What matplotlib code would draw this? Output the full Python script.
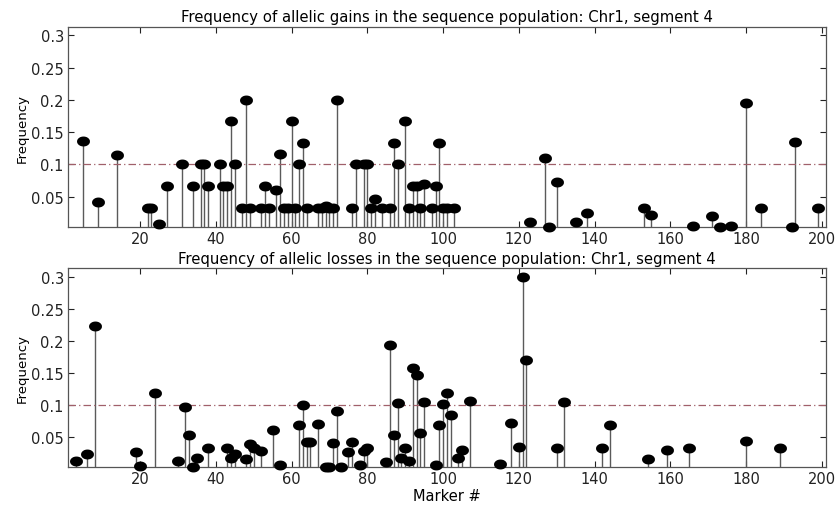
import numpy as np
from matplotlib import pyplot as plt
from matplotlib.path import Path

plt.rcParams['font.family'] = ['DejaVu Sans']

# allelic gains (top panel)
gain_marker = [5, 9, 14, 22, 23, 25, 27, 31, 34, 36, 37, 38, 41, 42, 43, 44, 45, 47, 48, 49,
               52, 53, 54, 56, 57, 58, 59, 60, 61, 62, 63, 64, 67, 68, 69, 70, 71, 72, 76, 77,
               79, 80, 81, 82, 84, 86, 87, 88, 90, 91, 92, 93, 94, 95, 97, 98, 99, 100, 101, 103,
               123, 127, 128, 130, 135, 138, 153, 155, 166, 171, 173, 176, 180, 184, 192, 193, 199]
gain_freq = [0.137, 0.042, 0.114, 0.033, 0.033, 0.007, 0.067, 0.1, 0.067, 0.1, 0.1, 0.067, 0.1, 0.067,
             0.067, 0.167, 0.1, 0.033, 0.2, 0.033, 0.033, 0.067, 0.033, 0.06, 0.116, 0.033, 0.033,
             0.167, 0.033, 0.1, 0.133, 0.033, 0.033, 0.033, 0.035, 0.033, 0.033, 0.2, 0.033, 0.1,
             0.1, 0.1, 0.033, 0.046, 0.033, 0.033, 0.133, 0.1, 0.167, 0.033, 0.067, 0.067, 0.033,
             0.069, 0.033, 0.067, 0.133, 0.033, 0.033, 0.033, 0.011, 0.11, 0.003, 0.073, 0.011,
             0.025, 0.033, 0.022, 0.004, 0.02, 0.003, 0.005, 0.195, 0.033, 0.003, 0.135, 0.033]

# allelic losses (bottom panel)
loss_marker = [3, 6, 8, 19, 20, 24, 30, 32, 33, 34, 35, 38, 43, 44, 45, 48, 49, 50, 52, 55, 57,
               62, 63, 64, 65, 67, 69, 70, 71, 72, 73, 75, 76, 78, 79, 80, 85, 86, 87, 88, 89, 90,
               91, 92, 93, 94, 95, 98, 99, 100, 101, 102, 104, 105, 107, 115, 118, 120, 121, 122,
               130, 132, 142, 144, 154, 159, 165, 180, 189]
loss_freq = [0.013, 0.023, 0.223, 0.026, 0.005, 0.119, 0.013, 0.097, 0.053, 0.004, 0.017, 0.033,
             0.033, 0.017, 0.023, 0.015, 0.039, 0.033, 0.028, 0.061, 0.007, 0.069, 0.1, 0.042,
             0.043, 0.071, 0.004, 0.003, 0.04, 0.09, 0.003, 0.027, 0.042, 0.007, 0.028, 0.033,
             0.011, 0.193, 0.053, 0.103, 0.017, 0.033, 0.012, 0.158, 0.146, 0.056, 0.104, 0.007,
             0.068, 0.101, 0.118, 0.084, 0.018, 0.029, 0.106, 0.008, 0.072, 0.034, 0.299, 0.17,
             0.033, 0.104, 0.033, 0.069, 0.016, 0.03, 0.033, 0.044, 0.033]

threshold = 0.1
titles = ['Frequency of allelic gains in the sequence population: Chr1, segment 4',
          'Frequency of allelic losses in the sequence population: Chr1, segment 4']

# flattened ellipse marker like matlab's filled stem
t = np.linspace(0, 2 * np.pi, 41)
ellipse = Path(np.column_stack([1.35 * np.cos(t), np.sin(t)]))

fig = plt.figure(figsize=(8.4, 5.1), dpi=100)
ax1 = fig.add_axes([0.081, 0.553, 0.902, 0.392])
ax2 = fig.add_axes([0.081, 0.082, 0.902, 0.39])

for ax, xs, ys, title in [(ax1, gain_marker, gain_freq, titles[0]),
                          (ax2, loss_marker, loss_freq, titles[1])]:
    ax.vlines(xs, 0, ys, color='#5a5a5a', linewidth=1.0)
    ax.plot(xs, ys, linestyle='none', marker=ellipse, markersize=8.3,
            color='black', clip_on=False, zorder=3)
    ax.axhline(threshold, color='#a0606a', linestyle=(0, (6, 2.5, 1, 2.5)), linewidth=0.9)
    ax.set_xlim(1, 201)
    ax.set_ylim(0.003, 0.313)
    ax.set_xticks(np.arange(20, 201, 20))
    ax.set_yticks([0.05, 0.1, 0.15, 0.2, 0.25, 0.3])
    ax.set_yticklabels(['0.05', '0.1', '0.15', '0.2', '0.25', '0.3'])
    ax.tick_params(direction='in', top=True, right=True, length=4,
                   labelsize=10.5, colors='#222222', width=0.8, pad=3)
    for s in ax.spines.values():
        s.set_color('#555555')
        s.set_linewidth(0.9)
    ax.set_ylabel('Frequency', fontsize=9.5, labelpad=2)
    ax.set_title(title, fontsize=10.7, pad=4)

ax2.set_xlabel('Marker #', fontsize=10.5, labelpad=1)

plt.savefig('out.png', dpi=100)
